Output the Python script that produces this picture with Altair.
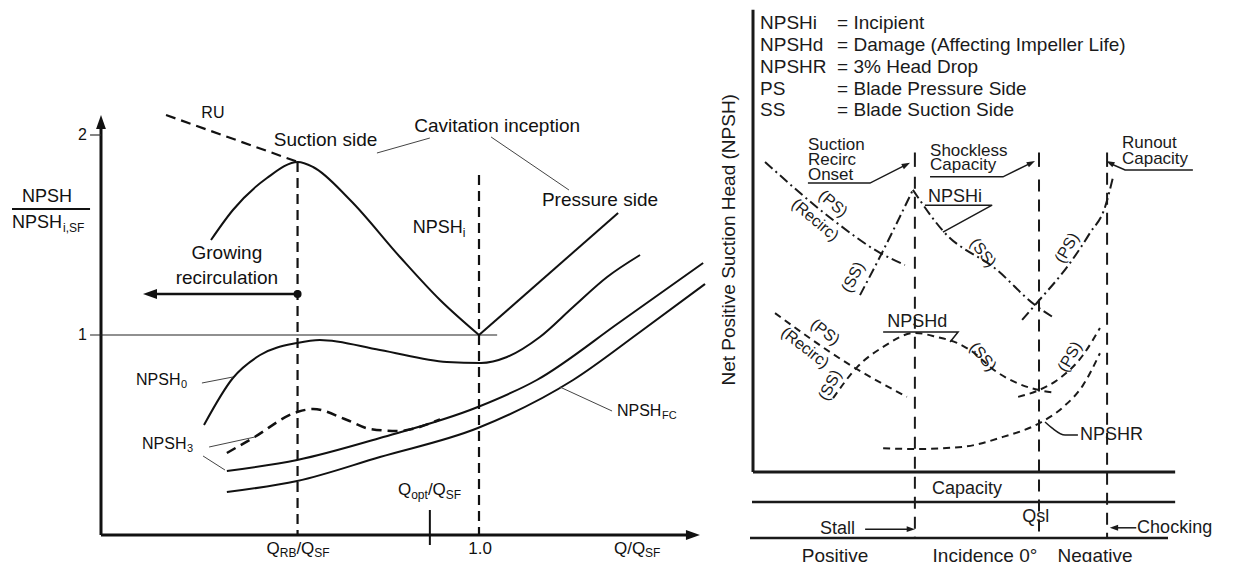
import altair as alt
import pandas as pd

FONT = "Liberation Sans"
INK_L = "#111111"
INK_R = "#1a1a1a"
W, H = 1218, 554

# ---------------- Left panel data (Q/Q_SF , NPSH/NPSH_i,SF) ----------------
suction_q = [0.291, 0.349, 0.439, 0.521, 0.561, 0.659, 0.791, 0.897, 1.0]
suction_r = [1.475, 1.625, 1.785, 1.865, 1.84, 1.675, 1.39, 1.175, 1.0]
pressure_q = [1.0, 1.368]
pressure_r = [1.0, 1.61]
ru_q = [0.172, 0.521]
ru_r = [2.10, 1.865]
npsh0_q = [0.2725, 0.349, 0.421, 0.519, 0.579, 0.738, 0.915, 1.005, 1.074, 1.161, 1.249, 1.339, 1.426]
npsh0_r = [0.55, 0.785, 0.90, 0.96, 0.975, 0.925, 0.865, 0.86, 0.89, 0.99, 1.14, 1.29, 1.40]
fc_upper_q = [0.333, 0.519, 0.738, 0.997, 1.153, 1.373, 1.593]
fc_upper_r = [0.32, 0.375, 0.485, 0.64, 0.775, 1.065, 1.36]
fc_lower_q = [0.333, 0.519, 0.738, 0.997, 1.249, 1.426, 1.598]
fc_lower_r = [0.215, 0.27, 0.39, 0.535, 0.775, 1.015, 1.255]
npsh3_q = [0.333, 0.402, 0.519, 0.561, 0.651, 0.712, 0.783, 0.897]
npsh3_r = [0.41, 0.485, 0.615, 0.63, 0.575, 0.53, 0.52, 0.578]
q_rb, q_one, q_opt = 0.52, 1.0, 0.870
ytick_vals = [2, 1]
ytick_labels = ["2", "1"]

# ---------------- Right panel data (capacity % of Qsl , NPSH units) ----------------
u_stall, u_qsl, u_runout = 56.6, 100.0, 123.8
npshi_psrec_u = [4.2, 28.0, 44.4, 53.1]
npshi_psrec_v = [68.9, 56.0, 48.7, 46.0]
npshi_ssl_u = [37.4, 45.1, 55.9]
npshi_ssl_v = [39.3, 48.7, 62.7]
npshi_ssr_u = [55.9, 66.4, 85.3, 98.6, 104.9]
npshi_ssr_v = [62.7, 53.6, 44.9, 37.1, 34.4]
npshi_ps_u = [94.1, 98.6, 110.8, 117.8, 123.1, 125.9]
npshi_ps_v = [33.8, 37.1, 46.4, 53.1, 58.9, 65.6]
npshd_psrec_u = [7.7, 33.9, 53.8]
npshd_psrec_v = [35.3, 23.8, 16.7]
npshd_ss_u = [28.0, 36.4, 45.5, 56.6, 64.3, 71.3, 75.9, 85.3, 96.9, 100.0, 105.6]
npshd_ss_v = [16.4, 23.3, 27.8, 30.9, 30.0, 28.7, 27.1, 22.2, 18.7, 18.2, 17.6]
npshd_ps_u = [92.7, 100.0, 106.3, 115.4, 121.3]
npshd_ps_v = [16.7, 18.2, 20.4, 26.0, 32.0]
npshr_u = [45.5, 56.6, 73.4, 87.4, 100.3, 108.4, 115.4, 121.3]
npshr_v = [5.3, 5.1, 5.6, 7.8, 10.9, 14.4, 19.3, 26.4]
legend_names = ["NPSHi", "NPSHd", "NPSHR", "PS", "SS"]
legend_desc = ["= Incipient", "= Damage (Affecting Impeller Life)", "= 3% Head Drop",
               "= Blade Pressure Side", "= Blade Suction Side"]

LX = alt.Scale(domain=[-0.24603, 2.97619], nice=False, zero=False)
LY = alt.Scale(domain=[-0.135, 2.635], nice=False, zero=False)
RX = alt.Scale(domain=[-260.49, 165.38], nice=False, zero=False)
RY = alt.Scale(domain=[-20.0, 103.111], nice=False, zero=False)

ARROW = "M-1,-0.7L1,0L-1,0.7Z"


def enc(ch, sx, sy, **extra):
    return ch.encode(x=alt.X("x:Q", scale=sx, axis=None),
                     y=alt.Y("y:Q", scale=sy, axis=None), **extra)


def line(sx, sy, xs, ys, width=2.0, dash=None, color=INK_L, interp="linear"):
    df = pd.DataFrame({"x": xs, "y": ys, "o": list(range(len(xs)))})
    kw = dict(strokeWidth=width, color=color, interpolate=interp, strokeCap="butt")
    if dash:
        kw["strokeDash"] = dash
    return enc(alt.Chart(df).mark_line(**kw), sx, sy, order=alt.Order("o:Q"))


def text(sx, sy, xs, ys, labels, size=16, align="left", color=INK_L, angles=None):
    df = pd.DataFrame({"x": xs, "y": ys, "t": labels,
                       "a": angles if angles else [0] * len(xs)})
    mk = alt.Chart(df).mark_text(align=align, baseline="middle", fontSize=size,
                                 font=FONT, color=color)
    return enc(mk, sx, sy, text="t:N", angle=alt.Angle("a:Q", scale=None))


def marker(sx, sy, xs, ys, shape, size, angle=0, color=INK_L):
    df = pd.DataFrame({"x": xs, "y": ys})
    kw = dict(shape=shape, size=size, filled=True, color=color, opacity=1, strokeWidth=0)
    if angle:
        kw["angle"] = angle
    return enc(alt.Chart(df).mark_point(**kw), sx, sy)


# ---------------- Left panel ----------------
L = []
L.append(line(LX, LY, [0, 0], [0, 2.04], width=3))
L.append(marker(LX, LY, [0], [2.065], ARROW, 196, angle=270))
L.append(line(LX, LY, [0, 1.55], [0, 0], width=3))
L.append(marker(LX, LY, [1.566], [0], ARROW, 196))
L.append(line(LX, LY, [-0.029, 0], [2, 2], width=1.2, color="#333"))
L.append(line(LX, LY, [-0.029, 1.048], [1, 1], width=1.2, color="#222"))
L.append(text(LX, LY, [-0.037, -0.037], ytick_vals, ytick_labels, size=16, align="right"))
L.append(line(LX, LY, [q_opt, q_opt], [0.125, -0.05], width=2))
# y title as a fraction
L.append(text(LX, LY, [-0.143], [1.69], ["NPSH"], size=18, align="center"))
L.append(line(LX, LY, [-0.2354, -0.029], [1.63, 1.63], width=2))
L.append(text(LX, LY, [-0.2354], [1.56], ["NPSH"], size=18))
L.append(text(LX, LY, [-0.1005], [1.535], ["i,SF"], size=12))
# curves
L.append(line(LX, LY, ru_q, ru_r, width=2.2, dash=[10, 6]))
L.append(line(LX, LY, suction_q, suction_r, width=2, interp="monotone"))
L.append(line(LX, LY, pressure_q, pressure_r, width=2))
L.append(line(LX, LY, npsh0_q, npsh0_r, width=2, interp="monotone"))
L.append(line(LX, LY, fc_upper_q, fc_upper_r, width=2, interp="monotone"))
L.append(line(LX, LY, fc_lower_q, fc_lower_r, width=2, interp="monotone"))
L.append(line(LX, LY, npsh3_q, npsh3_r, width=2.5, dash=[10, 6], interp="monotone"))
L.append(line(LX, LY, [q_rb, q_rb], [1.865, 0], width=2.2, dash=[10, 6]))
L.append(line(LX, LY, [q_one, q_one], [1.80, 0], width=2.2, dash=[10, 6]))
# recirculation arrow
L.append(line(LX, LY, [q_rb, 0.14], [1.205, 1.205], width=2.5))
L.append(marker(LX, LY, [0.1296], [1.205], ARROW, 196, angle=180))
L.append(marker(LX, LY, [q_rb], [1.205], "circle", 64))
# leader lines
for xs, ys in [([0.730, 0.870], [1.91, 1.985]), ([1.032, 1.238], [1.99, 1.725]),
               ([0.267, 0.349], [0.76, 0.79]), ([0.286, 0.407], [0.44, 0.49]),
               ([0.27, 0.328], [0.395, 0.325]), ([1.214, 1.352], [0.74, 0.62])]:
    L.append(line(LX, LY, xs, ys, width=1, color="#444"))
# labels
L.append(text(LX, LY, [0.594, 1.048, 1.32, 0.333, 0.333], [1.975, 2.045, 1.675, 1.41, 1.285],
              ["Suction side", "Cavitation inception", "Pressure side", "Growing", "recirculation"],
              size=19, align="center"))
L.append(text(LX, LY, [0.296], [2.11], ["RU"], size=16, align="center"))
L.append(text(LX, LY, [0.825], [1.535], ["NPSH"], size=18))
L.append(text(LX, LY, [0.957], [1.51], ["i"], size=12))
L.append(text(LX, LY, [0.0926, 0.1085, 1.365], [0.775, 0.455, 0.62], ["NPSH", "NPSH", "NPSH"], size=16))
L.append(text(LX, LY, [0.2116, 0.2275, 1.484], [0.75, 0.43, 0.595], ["0", "3", "FC"], size=11))
# x labels
L.append(text(LX, LY, [0.4378, 0.5169, 1.357, 0.7857, 0.8648], [-0.07, -0.07, -0.07, 0.225, 0.225],
              ["Q", "/Q", "Q/Q", "Q", "/Q"], size=17))
L.append(text(LX, LY, [0.4728, 0.5643, 1.4392, 0.8206, 0.9122], [-0.09, -0.09, -0.09, 0.2, 0.2],
              ["RB", "SF", "SF", "opt", "SF"], size=12))
L.append(text(LX, LY, [1.003], [-0.07], ["1.0"], size=17, align="center"))

# ---------------- Right panel ----------------
R = []
C = INK_R
R.append(line(RX, RY, [0, 0], [0, 102.7], width=3, color=C))
R.append(line(RX, RY, [0, 147.6], [0, 0], width=3, color=C))
R.append(line(RX, RY, [-0.35, 147.6], [-6.67, -6.67], width=2.5, color=C))
R.append(line(RX, RY, [-1.05, 145.1], [-14.67, -14.67], width=2.5, color=C))
for u, top in [(u_stall, 65.6), (u_qsl, 65.0), (u_runout, 66.5)]:
    R.append(line(RX, RY, [u, u], [top, -14.67], width=2, dash=[12, 8], color=C))
    R.append(line(RX, RY, [u, u], [71.0, 67.8], width=2, color=C))
# NPSHi (dash-dot)
DD = [10, 4, 2, 4]
R.append(line(RX, RY, npshi_psrec_u, npshi_psrec_v, width=2, dash=DD, color=C, interp="monotone"))
R.append(line(RX, RY, npshi_ssl_u, npshi_ssl_v, width=2, dash=DD, color=C, interp="monotone"))
R.append(line(RX, RY, npshi_ssr_u, npshi_ssr_v, width=2, dash=DD, color=C, interp="monotone"))
R.append(line(RX, RY, npshi_ps_u, npshi_ps_v, width=2, dash=DD, color=C, interp="monotone"))
# NPSHd / NPSHR (dashed)
DS = [7, 5]
R.append(line(RX, RY, npshd_psrec_u, npshd_psrec_v, width=2, dash=DS, color=C, interp="monotone"))
R.append(line(RX, RY, npshd_ss_u, npshd_ss_v, width=2, dash=DS, color=C, interp="monotone"))
R.append(line(RX, RY, npshd_ps_u, npshd_ps_v, width=2, dash=DS, color=C, interp="monotone"))
R.append(line(RX, RY, npshr_u, npshr_v, width=2, dash=DS, color=C, interp="monotone"))
# callout lines and arrows
R.append(line(RX, RY, [19.2, 40.9, 53.6], [64.2, 64.2, 68.3], width=1.5, color=C))
R.append(marker(RX, RY, [53.6], [68.3], ARROW, 70, angle=333, color=C))
R.append(line(RX, RY, [61.9, 87.4, 97.3], [65.6, 65.6, 68.7], width=1.5, color=C))
R.append(marker(RX, RY, [97.3], [68.7], ARROW, 70, angle=333, color=C))
R.append(line(RX, RY, [153.8, 130.1, 125.5], [67.1, 67.1, 68.4], width=1.5, color=C))
R.append(marker(RX, RY, [124.8], [68.7], ARROW, 70, angle=207, color=C))
R.append(line(RX, RY, [60.1, 83.6, 66.4], [59.3, 59.3, 53.3], width=1.5, color=C))
R.append(line(RX, RY, [45.5, 71.7, 68.9], [31.1, 31.1, 28.9], width=1.5, color=C))
R.append(line(RX, RY, [113.6, 109.1, 104.5, 102.1], [8.2, 8.2, 9.8, 11.1], width=1.5, color=C,
              interp="monotone"))
R.append(line(RX, RY, [39.2, 54.0], [-12.7, -12.7], width=1.5, color=C))
R.append(marker(RX, RY, [55.2], [-12.7], ARROW, 70, color=C))
R.append(line(RX, RY, [134.0, 127.3], [-12.4, -12.4], width=1.5, color=C))
R.append(marker(RX, RY, [126.2], [-12.4], ARROW, 70, angle=180, color=C))
# legend block
R.append(text(RX, RY, [2.45] * 5, [99.8, 94.9, 90.0, 85.1, 80.4], legend_names, size=19, color=C))
R.append(text(RX, RY, [29.4] * 5, [99.8, 94.9, 90.0, 85.1, 80.4], legend_desc, size=19, color=C))
# stacked callout labels
R.append(text(RX, RY,
              [19.2, 19.2, 19.2, 61.9, 61.9, 129.0, 129.0],
              [72.7, 69.3, 66.0, 71.3, 68.2, 73.1, 69.6],
              ["Suction", "Recirc", "Onset", "Shockless", "Capacity", "Runout", "Capacity"],
              size=17, color=C))
# other annotations
R.append(text(RX, RY,
              [61.2, 46.9, 114.3, 62.6, 94.1, 23.4, 134.3],
              [61.1, 33.3, 8.2, -3.8, -10.0, -12.7, -12.4],
              ["NPSHi", "NPSHd", "NPSHR", "Capacity", "Qsl", "Stall", "Chocking"],
              size=18, color=C))
R.append(text(RX, RY, [28.7, 81.1, 119.6], [-18.7, -18.7, -18.7],
              ["Positive", "Incidence 0°", "Negative"], size=19, align="center", color=C))
R.append(text(RX, RY,
              [28.0, 21.7, 35.0, 80.4, 109.8, 25.2, 18.2, 26.9, 80.4, 110.8],
              [59.6, 56.0, 43.3, 48.7, 49.8, 31.1, 27.6, 19.3, 25.6, 25.6],
              ["(PS)", "(Recirc)", "(SS)", "(SS)", "(PS)", "(PS)", "(Recirc)", "(SS)", "(SS)", "(PS)"],
              size=16, align="center", color=C,
              angles=[40, 40, 297, 52, 300, 38, 38, 297, 50, 300]))
R.append(text(RX, RY, [-8.4], [51.6], ["Net Positive Suction Head (NPSH)"], size=19,
              align="center", color=C, angles=[270]))

left = alt.layer(*L)
right = alt.layer(*R)
chart = (alt.layer(left, right)
         .resolve_scale(x="independent", y="independent")
         .properties(width=W, height=H, padding=0,
                     autosize=alt.AutoSizeParams(type="none"))
         .configure_view(stroke=None))
chart.save("out.html", embed_options={"renderer": "svg", "actions": False})
